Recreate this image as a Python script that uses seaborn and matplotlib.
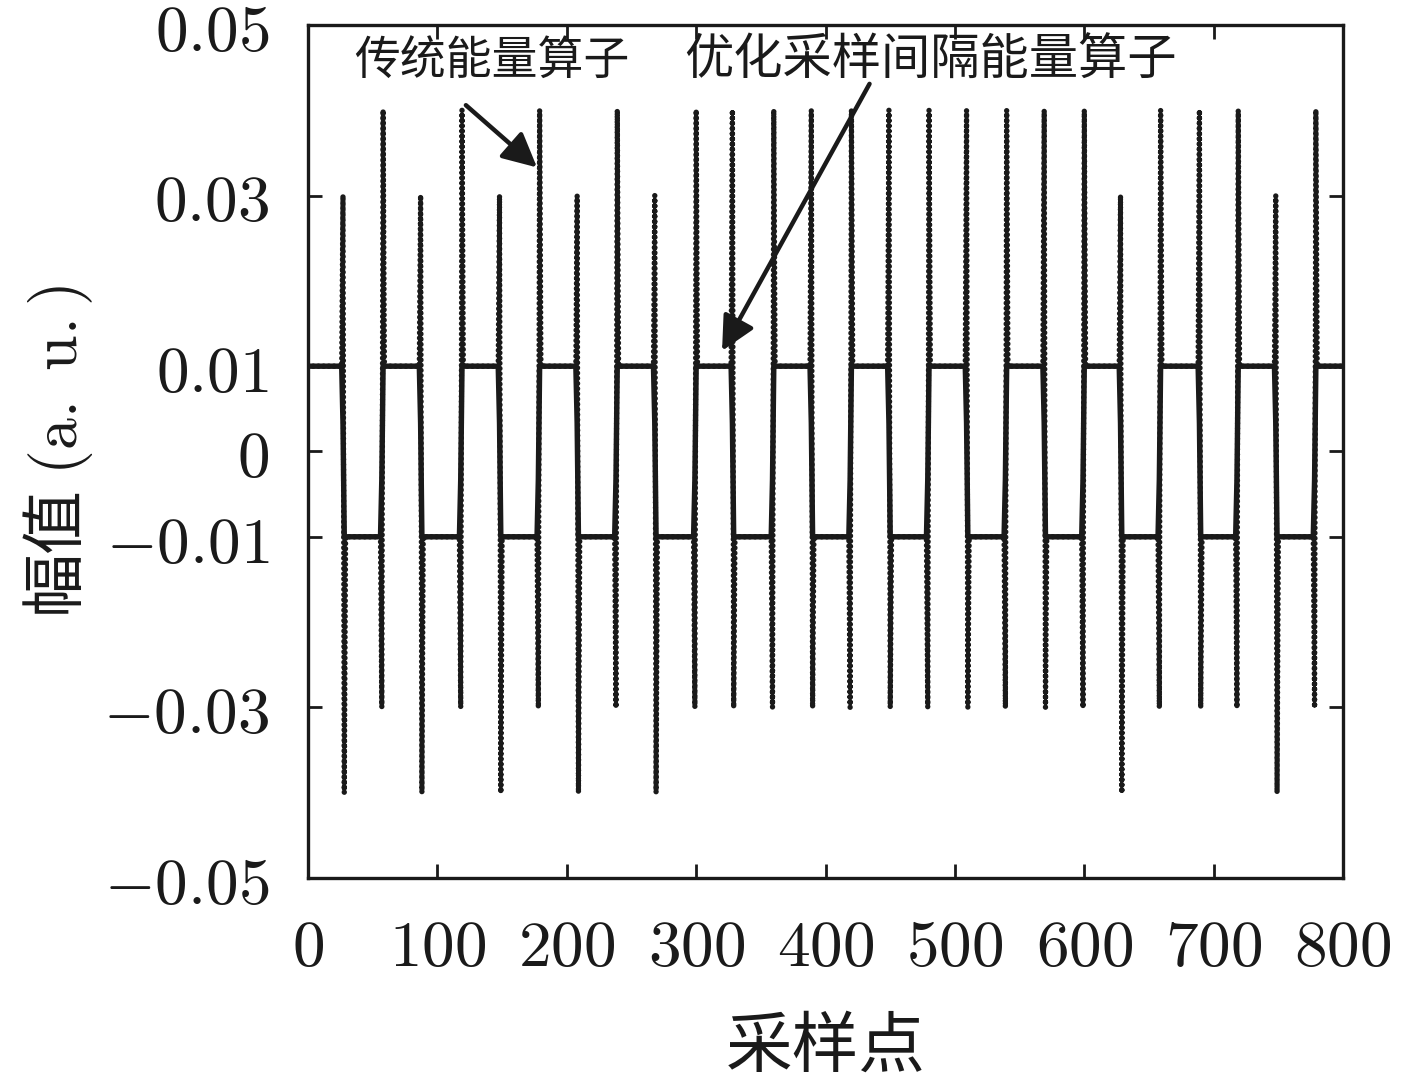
import numpy as np
import pandas as pd
import matplotlib
matplotlib.use('Agg')
import matplotlib.pyplot as plt
import seaborn as sns

# sample index where each jump of the square wave happens
transitions = [27, 57, 87, 118, 148, 178, 208, 238, 268, 299, 328, 359, 389,
               419, 449, 479, 509, 539, 569, 599, 628, 658, 689, 718, 748, 778]
# traditional energy operator: spike top / bottom at each jump
spike_top = [0.03, 0.04, 0.03, 0.04, 0.03, 0.04, 0.03, 0.04, 0.03, 0.04, 0.04, 0.04, 0.04,
             0.04, 0.04, 0.04, 0.04, 0.04, 0.04, 0.04, 0.03, 0.04, 0.04, 0.04, 0.03, 0.04]
spike_bottom = [-0.04, -0.03, -0.04, -0.03, -0.04, -0.03, -0.04, -0.03, -0.04, -0.03, -0.03, -0.03, -0.03,
                -0.03, -0.03, -0.03, -0.03, -0.03, -0.03, -0.03, -0.04, -0.03, -0.03, -0.03, -0.04, -0.03]
level = 0.01        # plateau of both operators
mid_level = 0.0033  # intermediate sample of the optimised operator at each jump
n_samples = 800

xticks = [0, 100, 200, 300, 400, 500, 600, 700, 800]
yticks = [-0.05, -0.03, -0.01, 0, 0.01, 0.03, 0.05]

# build both curves from the lists above
n = np.arange(n_samples + 1)
opt = np.full(n.shape, level)
trad = np.full(n.shape, level)
sign = 1.0
edges = transitions + [n_samples + 1]
for i, t in enumerate(transitions):
    opt[t:edges[i + 1]] = -sign * level
    trad[t:edges[i + 1]] = -sign * level
    opt[t] = sign * mid_level
    if sign > 0:
        trad[t] = spike_top[i]
        trad[t + 1] = spike_bottom[i]
    else:
        trad[t] = spike_bottom[i]
        trad[t + 1] = spike_top[i]
    sign = -sign

df = pd.DataFrame({'n': n, 'trad': trad, 'opt': opt})

sns.set_theme(style='ticks')
plt.rcParams['font.family'] = ['Noto Sans CJK SC', 'DejaVu Sans']
plt.rcParams['mathtext.fontset'] = 'cm'
plt.rcParams['axes.unicode_minus'] = True
plt.rcParams['text.color'] = 'k'
plt.rcParams['axes.labelcolor'] = 'k'
plt.rcParams['xtick.color'] = 'k'
plt.rcParams['ytick.color'] = 'k'

fig = plt.figure(figsize=(14.17, 10.87), dpi=100)
ax = fig.add_axes([0.2174, 0.1923, 0.7304, 0.7847])

sns.lineplot(data=df, x='n', y='trad', ax=ax, color='k', linewidth=3.9, errorbar=None,
             linestyle=(0, (0.01, 0.95)), dash_capstyle='round')
sns.lineplot(data=df, x='n', y='opt', ax=ax, color='k', linewidth=3.9, errorbar=None)

ax.set_xlim(0, 800)
ax.set_ylim(-0.05, 0.05)
ax.set_xticks(xticks)
ax.set_yticks(yticks)
ax.set_xticklabels([r'$%d$' % v for v in xticks])
ax.set_yticklabels([r'$%s$' % ('0' if v == 0 else ('%.2f' % v)) for v in yticks])
ax.tick_params(direction='in', top=True, right=True, length=10, width=2,
               labelsize=47, color='k', labelcolor='k')
ax.tick_params(axis='y', pad=28)
ax.tick_params(axis='x', pad=26)
for sp in ax.spines.values():
    sp.set_linewidth(2.4)
    sp.set_color('k')

ax.set_xlabel('采样点', fontsize=48, labelpad=24, color='k')
ax.set_ylabel(r'幅值$\;(\mathrm{a.\ u.})$', fontsize=46, labelpad=6, color='k')

ax.text(36, 0.0458, '传统能量算子', fontsize=33, va='center', ha='left', color='k')
ax.text(291, 0.0458, '优化采样间隔能量算子', fontsize=35.5, va='center', ha='left', color='k')
ax.annotate('', xy=(177, 0.0333), xytext=(122, 0.0406),
            arrowprops=dict(arrowstyle='-|>', lw=3.2, color='k', mutation_scale=52,
                            shrinkA=0, shrinkB=0))
ax.annotate('', xy=(320, 0.0118), xytext=(434, 0.0431),
            arrowprops=dict(arrowstyle='-|>', lw=3.2, color='k', mutation_scale=52,
                            shrinkA=0, shrinkB=0))

fig.savefig('out.png', dpi=100)
